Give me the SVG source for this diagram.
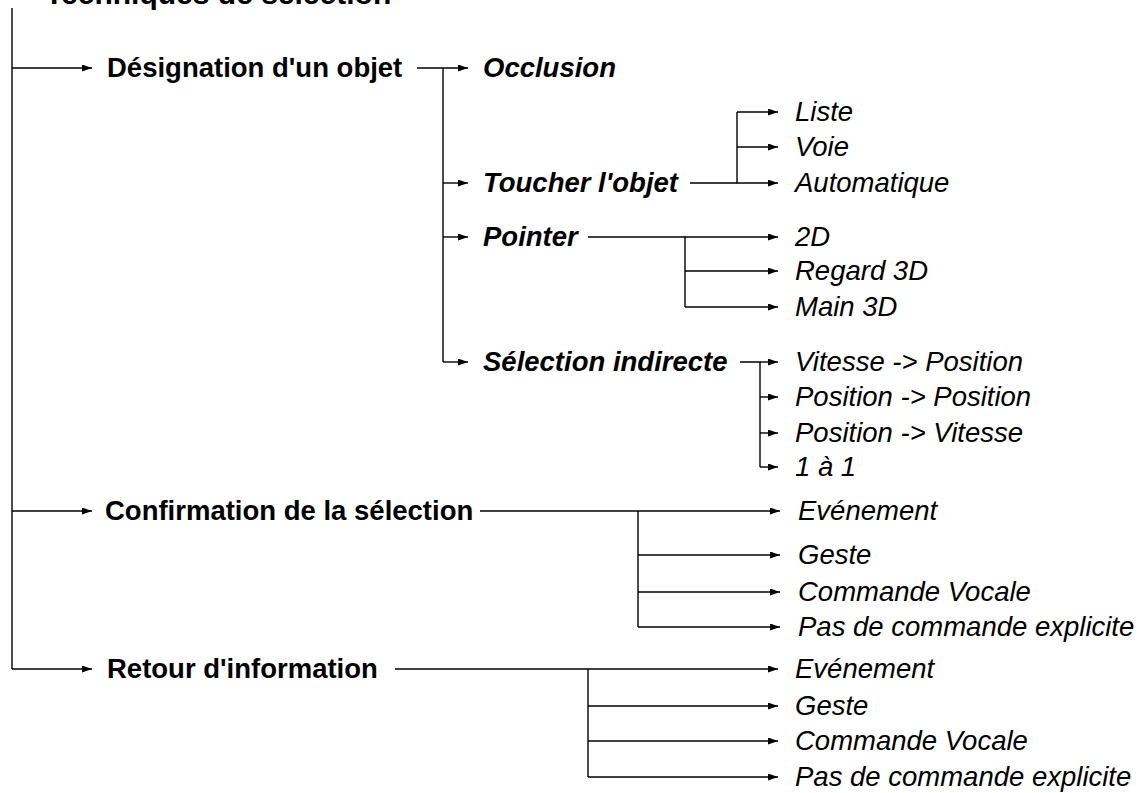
<svg xmlns="http://www.w3.org/2000/svg" width="1148" height="793" viewBox="0 0 1148 793">
  <style>
    .title { font: bold 30px "Liberation Sans", Arial, Helvetica, sans-serif; fill: #000; }
    .main { font: bold 27.5px "Liberation Sans", Arial, Helvetica, sans-serif; fill: #000; }
    .sub { font: italic bold 27.5px "Liberation Sans", Arial, Helvetica, sans-serif; fill: #000; }
    .leaf { font: italic 27.5px "Liberation Sans", Arial, Helvetica, sans-serif; fill: #000; }
    .wire { fill: none; stroke: #000; stroke-width: 1.4; }
    .arrow { marker-end: url(#head); }
  </style>
  <defs>
    <marker id="head" markerUnits="userSpaceOnUse" markerWidth="11" markerHeight="8" refX="10" refY="3.5" orient="auto">
      <path d="M0,0 L10,3.5 L0,7 z" fill="#000"/>
    </marker>
  </defs>

  <rect width="1148" height="793" fill="#fff"/>

  <g id="title">
    <text class="title" x="45" y="4">Techniques de sélection</text>
  </g>

  <!-- tree connectors -->
  <g id="connectors">
    <!-- trunk -->
    <path class="wire" d="M12,8 V669"/>
    <path class="wire arrow" d="M12,68 H92"/>
    <path class="wire arrow" d="M12,511 H92"/>
    <path class="wire arrow" d="M12,669 H92"/>

    <!-- Désignation d'un objet -->
    <path class="wire arrow" d="M417,68 H468"/>
    <path class="wire" d="M443,68 V362"/>
    <path class="wire arrow" d="M443,183 H468"/>
    <path class="wire arrow" d="M443,237 H468"/>
    <path class="wire arrow" d="M443,362 H468"/>

    <!-- Toucher l'objet -->
    <path class="wire" d="M690,183 H737 V112"/>
    <path class="wire arrow" d="M737,112 H778"/>
    <path class="wire arrow" d="M737,147 H778"/>
    <path class="wire arrow" d="M737,183 H778"/>

    <!-- Pointer -->
    <path class="wire" d="M588,237 H685 V307"/>
    <path class="wire arrow" d="M685,237 H778"/>
    <path class="wire arrow" d="M685,271 H778"/>
    <path class="wire arrow" d="M685,307 H778"/>

    <!-- Sélection indirecte -->
    <path class="wire" d="M740,362 H760 V467"/>
    <path class="wire arrow" d="M760,362 H778"/>
    <path class="wire arrow" d="M760,397 H778"/>
    <path class="wire arrow" d="M760,433 H778"/>
    <path class="wire arrow" d="M760,467 H778"/>

    <!-- Confirmation de la sélection -->
    <path class="wire arrow" d="M480,511 H780"/>
    <path class="wire" d="M638,511 V627"/>
    <path class="wire arrow" d="M638,555 H780"/>
    <path class="wire arrow" d="M638,592 H780"/>
    <path class="wire arrow" d="M638,627 H780"/>

    <!-- Retour d'information -->
    <path class="wire arrow" d="M395,669 H778"/>
    <path class="wire" d="M588,669 V777"/>
    <path class="wire arrow" d="M588,706 H778"/>
    <path class="wire arrow" d="M588,741 H778"/>
    <path class="wire arrow" d="M588,777 H778"/>
  </g>

  <g id="designation">
    <text class="main" x="107" y="77">Désignation d'un objet</text>
  </g>
  <g id="occlusion">
    <text class="sub" x="483" y="77">Occlusion</text>
  </g>
  <g id="toucher">
    <text class="sub" x="483" y="192">Toucher l'objet</text>
  </g>
  <g id="toucher-liste"><text class="leaf" x="795" y="121">Liste</text></g>
  <g id="toucher-voie"><text class="leaf" x="795" y="156">Voie</text></g>
  <g id="toucher-auto"><text class="leaf" x="795" y="192">Automatique</text></g>

  <g id="pointer">
    <text class="sub" x="483" y="246">Pointer</text>
  </g>
  <g id="pointer-2d"><text class="leaf" x="795" y="246">2D</text></g>
  <g id="pointer-regard"><text class="leaf" x="795" y="280">Regard 3D</text></g>
  <g id="pointer-main"><text class="leaf" x="795" y="316">Main 3D</text></g>

  <g id="selection-indirecte">
    <text class="sub" x="483" y="371">Sélection indirecte</text>
  </g>
  <g id="si-vp"><text class="leaf" x="795" y="371">Vitesse -&gt; Position</text></g>
  <g id="si-pp"><text class="leaf" x="795" y="406">Position -&gt; Position</text></g>
  <g id="si-pv"><text class="leaf" x="795" y="442">Position -&gt; Vitesse</text></g>
  <g id="si-11"><text class="leaf" x="795" y="476">1 à 1</text></g>

  <g id="confirmation">
    <text class="main" x="105" y="520">Confirmation de la sélection</text>
  </g>
  <g id="conf-evenement"><text class="leaf" x="798" y="520">Evénement</text></g>
  <g id="conf-geste"><text class="leaf" x="798" y="564">Geste</text></g>
  <g id="conf-vocale"><text class="leaf" x="798" y="601">Commande Vocale</text></g>
  <g id="conf-implicite"><text class="leaf" x="798" y="636">Pas de commande explicite</text></g>

  <g id="retour">
    <text class="main" x="107" y="678">Retour d'information</text>
  </g>
  <g id="ret-evenement"><text class="leaf" x="795" y="678">Evénement</text></g>
  <g id="ret-geste"><text class="leaf" x="795" y="715">Geste</text></g>
  <g id="ret-vocale"><text class="leaf" x="795" y="750">Commande Vocale</text></g>
  <g id="ret-implicite"><text class="leaf" x="795" y="786">Pas de commande explicite</text></g>
</svg>
